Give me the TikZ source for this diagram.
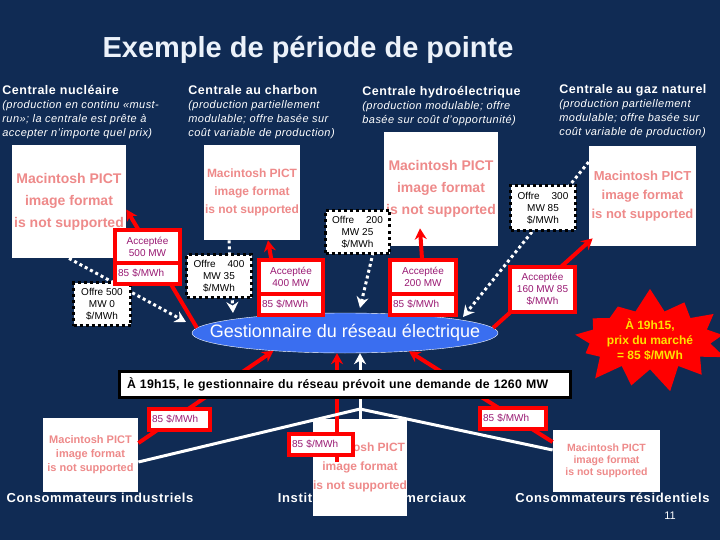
\documentclass[tikz,border=0pt]{standalone}
\usepackage{fontspec}
\setmainfont{Liberation Sans}
\usepackage{tikz}
\usetikzlibrary{calc,positioning,arrows.meta,shapes.geometric,shapes.symbols}

\definecolor{slidenavy}{RGB}{16,43,84}
\definecolor{titlewhite}{RGB}{236,242,250}
\definecolor{gridblue}{RGB}{58,110,240}
\definecolor{pictpink}{RGB}{238,138,138}
\definecolor{accpurple}{RGB}{153,25,115}
\definecolor{staryellow}{RGB}{255,225,0}

\newcommand{\pictmsg}{Macintosh PICT\\image format\\is not supported}

\tikzset{
  head/.style={anchor=base west, inner sep=0pt, text=white, font=\bfseries\fontsize{12.5}{14}\selectfont\addfontfeature{LetterSpace=4}},
  desc/.style={anchor=north west, align=left, inner sep=0pt, text=white, font=\itshape\fontsize{11}{14}\selectfont\addfontfeature{LetterSpace=4}},
  pict/.style 2 args={fill=white, text=pictpink, align=center, inner sep=0pt, font=\bfseries\fontsize{#1}{#2}\selectfont},
  offer/.style={fill=white, draw=black, line width=3pt, dash pattern=on 3pt off 3pt, align=center, inner sep=1pt, outer sep=0pt, font=\fontsize{10}{12}\selectfont},
  acc/.style={fill=white, draw=red, line width=4pt, align=center, inner sep=1pt, outer sep=0pt, text=accpurple, font=\fontsize{10}{12}\selectfont},
  price/.style={acc, align=left, text width=#1, inner xsep=3pt, minimum height=21pt},
  bid/.style={white, line width=3pt, dash pattern=on 3pt off 3pt, ->},
  flow/.style={red, line width=4pt},
  load/.style={white, line width=3pt},
  who/.style={text=white, font=\bfseries\fontsize{13}{15}\selectfont\addfontfeature{LetterSpace=5}},
}

\begin{document}
\begin{tikzpicture}[x=1pt, y=-1pt, >={Stealth[length=11pt,width=12pt]}, thick]

    % -- Background --
    \fill[slidenavy] (0,0) rectangle (720,540);
    \useasboundingbox (0,0) rectangle (720,540);

    % -- Title --
    \node[text=titlewhite, font=\bfseries\fontsize{29}{32}\selectfont] (title) at (308,50)
        {Exemple de période de pointe};

    % -- Power plants: headings and descriptions --
    \node[head] (nuchead) at (2,95) {Centrale nucléaire};
    \node[desc] (nucdesc) at (2,100)
        {(production en continu «must-\\run»; la centrale est prête à\\accepter n'importe quel prix)};

    \node[head] (coalhead) at (188,95) {Centrale au charbon};
    \node[desc] (coaldesc) at (188,100)
        {(production partiellement\\modulable; offre basée sur\\coût variable de production)};

    \node[head] (hydrohead) at (362,96) {Centrale hydroélectrique};
    \node[desc] (hydrodesc) at (362,101)
        {(production modulable; offre\\basée sur coût d'opportunité)};

    \node[head] (gashead) at (559,94) {Centrale au gaz naturel};
    \node[desc] (gasdesc) at (559,99)
        {(production partiellement\\modulable; offre basée sur\\coût variable de production)};

    % -- Missing pictures --
    \node[pict={14}{22}, minimum width=114pt, minimum height=113pt] (nucimg) at (69,201.5) {\pictmsg};
    \node[pict={12}{18}, minimum width=96pt, minimum height=95pt] (coalimg) at (252,192.5) {\pictmsg};
    \node[pict={14}{22}, minimum width=114pt, minimum height=114pt] (hydroimg) at (441,189) {\pictmsg};
    \node[pict={13}{19}, minimum width=107pt, minimum height=100pt] (gasimg) at (642.5,196) {\pictmsg};

    % -- Consumers --
    \node[who] (indlabel) at (100,498) {Consommateurs industriels};
    \node[who] (instlabel) at (372,498) {Institutions et commerciaux};
    \node[who] (reslabel) at (612.5,498) {Consommateurs résidentiels};

    \node[pict={11}{14}, minimum width=95pt, minimum height=74pt] (indimg) at (90.5,455) {\pictmsg};
    \node[pict={12}{19}, minimum width=94pt, minimum height=97pt] (instimg) at (360,467.5) {\pictmsg};
    \node[pict={10.5}{12}, minimum width=107pt, minimum height=62pt] (resimg) at (606.5,461) {\pictmsg};

    % -- Grid operator --
    \node[ellipse, fill=gridblue, draw=white, thin, inner sep=0pt,
          minimum width=306pt, minimum height=40pt] (grid) at (345,333) {};
    \node[text=white, font=\fontsize{18}{20}\selectfont] (gridtext) at (grid) {Gestionnaire du réseau électrique};

    % -- Offers going to the operator --
    \coordinate (nuctip) at (186,322);
    \coordinate (coaltip) at (233,313);
    \coordinate (hydrotip) at (360,308);
    \coordinate (gastip) at (463,317);
    \draw[bid] (nucimg.south) -- (nuctip);
    \draw[bid] ([xshift=-23pt]coalimg.south) -- (coaltip);
    \draw[bid] ([xshift=-9pt]hydroimg.south west) -- (hydrotip);
    \draw[bid] ([yshift=34pt]gasimg.west) -- (gastip);

    % -- Accepted quantities back to the plants --
    \draw[flow,->] (grid.178) -- ([yshift=-8pt]nucimg.east);
    \draw[flow,->] (grid.164) -- ([xshift=16pt]coalimg.south);
    \draw[flow,->] (grid.12) -- ([xshift=-21pt,yshift=18pt]hydroimg.south);
    \draw[flow,->] (grid.2) -- ([shift={(4pt,8pt)}]gasimg.south west);

    % -- Prices paid by the consumers --
    \coordinate (instfoot) at (337,462);
    \draw[flow,->] ([yshift=12pt]indimg.east) -- (grid.194);
    \draw[flow,->] (instfoot) -- (instfoot |- grid.south);
    \draw[flow,->] ([yshift=19pt]resimg.west) -- (grid.-16);

    % -- Demand forecast --
    \coordinate (jn) at (360,409);
    \draw[load] ([yshift=-7pt]indimg.east) -- (jn) -- ([yshift=11pt]resimg.west);
    \draw[load] (instimg.north) -- (jn);
    \draw[load,->] (jn) -- (jn |- grid.south);

    % -- Offer boxes --
    \node[offer, minimum width=57pt, minimum height=43pt] (nucoffer) at (102,304) {Offre 500\\MW 0\\\$/MWh};
    \node[offer, minimum width=65pt, minimum height=43pt] (coaloffer) at (219,276) {Offre\hspace{1.2em}400\\MW 35\\\$/MWh};
    \node[offer, minimum width=64pt, minimum height=43pt] (hydrooffer) at (357.5,232) {Offre\hspace{1.2em}200\\MW 25\\\$/MWh};
    \node[offer, minimum width=65pt, minimum height=45pt] (gasoffer) at (543,208) {Offre\hspace{1.2em}300\\MW 85\\\$/MWh};

    % -- Accepted boxes --
    \node[acc, minimum width=65pt, minimum height=33pt] (nucacc) at (147.5,246.5) {Acceptée\\500 MW};
    \node[price=59pt, below=0pt of nucacc] (nucprice) {85 \$/MWh};
    \node[acc, minimum width=64pt, minimum height=34pt] (coalacc) at (291,277) {Acceptée\\400 MW};
    \node[price=58pt, below=0pt of coalacc] (coalprice) {85 \$/MWh};
    \node[acc, minimum width=66pt, minimum height=34pt] (hydroacc) at (423,277) {Acceptée\\200 MW};
    \node[price=60pt, below=0pt of hydroacc] (hydroprice) {85 \$/MWh};
    \node[acc, minimum width=65pt, minimum height=45pt] (gasacc) at (542.5,289.5) {Acceptée\\160 MW 85\\\$/MWh};

    % -- Consumer price boxes --
    \node[price=55pt] (indprice) at (179.5,419.5) {85 \$/MWh};
    \node[price=58pt] (instprice) at (321,444.5) {85 \$/MWh};
    \node[price=60pt] (resprice) at (513,418.5) {85 \$/MWh};

    % -- Forecast bar --
    \node[fill=white, draw=black, line width=3pt, text width=436pt, inner xsep=7.5pt,
          minimum height=26pt, align=left, font=\bfseries\fontsize{12.3}{14}\selectfont\addfontfeature{LetterSpace=2}] (demand) at (345,384.5)
        {À 19h15, le gestionnaire du réseau prévoit une demande de 1260 MW};

    % -- Market price burst --
    \node[starburst, starburst points=13, starburst point height=24pt, random starburst=7,
          fill=red, minimum width=135pt, minimum height=106pt, inner sep=0pt, align=center,
          text=staryellow, font=\bfseries\fontsize{12}{15}\selectfont] (burst) at (650,340)
        {À 19h15,\\prix du marché\\= 85 \$/MWh};

    % -- Page number --
    \node[text=white, font=\fontsize{11}{13}\selectfont] (pagenum) at (670,516) {11};

\end{tikzpicture}
\end{document}
